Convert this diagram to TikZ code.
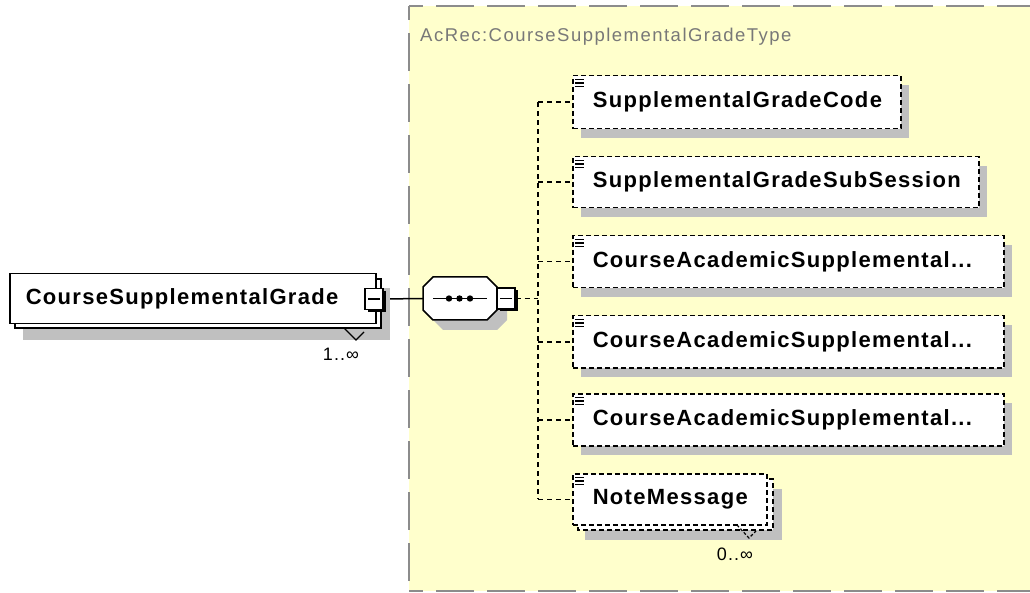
\documentclass[tikz,border=0pt]{standalone}
\usepackage{fontspec}
\setmainfont{Liberation Sans}
\newfontfamily\xsfont[LetterSpace=6]{Liberation Sans}
\newfontfamily\ttlfont[LetterSpace=8]{Liberation Sans}
\usetikzlibrary{shadows}
\definecolor{ybg}{RGB}{255,255,204}
\definecolor{bordergray}{RGB}{140,140,140}
\definecolor{shadowgray}{RGB}{192,192,192}
\definecolor{titlegray}{RGB}{120,120,120}
\newcommand\eltxt[3]{\makebox[#1][l]{\hspace{#2}#3}}
\pgfdeclarelayer{bg}
\pgfsetlayers{bg,main}
\begin{document}
\begin{tikzpicture}[x=1pt,y=-1pt,
  elt/.style={draw, line width=1.5pt, fill=white, inner xsep=0pt, inner ysep=0pt,
    anchor=north west, font=\xsfont\bfseries\fontsize{22}{26}\selectfont,
    text height=15pt, text depth=4pt},
  optnos/.style={elt, dash pattern=on 5pt off 3pt},
  opt/.style={optnos, drop shadow={shadow xshift=8pt, shadow yshift=-9pt, fill=shadowgray, opacity=1}},
  minus/.style={draw, fill=white, line width=1.3pt, minimum width=18pt, minimum height=21pt, inner sep=0pt,
    drop shadow={shadow xshift=2.5pt, shadow yshift=-2.5pt, fill=black, opacity=1},
    path picture={\draw[line width=1.3pt] ([xshift=3pt]path picture bounding box.west) -- ([xshift=-3pt]path picture bounding box.east);}},
  con/.style={line width=1.5pt},
  dcon/.style={line width=1.5pt, dash pattern=on 5pt off 4pt},
  mult/.style={font=\xsfont\fontsize{18}{21}\selectfont, inner sep=0pt},
  frame/.style={draw=bordergray, line width=2pt, dash pattern=on 38pt off 13pt},
  icon/.style={line width=1.3pt}
]
\useasboundingbox (0,0) rectangle (1030,593);

% type region
\begin{pgfonlayer}{bg}
\fill[ybg] (409,6) rectangle (1030,591);
\draw[frame, dash phase=24pt] (409,6) -- (1030,6);
\draw[frame, dash phase=24pt] (409,6) -- (409,591);
\draw[frame, dash phase=24pt] (409,591) -- (1030,591);
\end{pgfonlayer}
\node[anchor=base west, text=titlegray, font=\ttlfont\fontsize{18.5}{22}\selectfont, inner sep=0pt] (title) at (420,42) {AcRec:CourseSupplementalGradeType};

% main element (multiple)
\fill[shadowgray] (23,288) rectangle (390,340);
\draw[line width=1.5pt, fill=white] (15,279) rectangle (381,328);
\node[elt, minimum width=366pt, minimum height=50pt] (main) at (9,273) {\eltxt{366pt}{16pt}{CourseSupplementalGrade}};
\draw[line width=1.2pt] (344,328) -- (356,340) -- (364,332);
\node[minus] (mm) at (374,299) {};
\node[mult] (m1) at (341,354) {1..∞};

% sequence compositor
\node[minimum width=74pt, minimum height=43pt, inner sep=0pt] (seq) at (460,298.5) {};
\fill[shadowgray, shift={(10,10)}] (433,277) -- (487,277) -- (497,287) -- (497,310) -- (487,320) -- (433,320) -- (423,310) -- (423,287) -- cycle;
\draw[line width=1.5pt, fill=white] (433,277) -- (487,277) -- (497,287) -- (497,310) -- (487,320) -- (433,320) -- (423,310) -- (423,287) -- cycle;
\draw[line width=1.5pt] (433,298.5) -- (487,298.5);
\foreach \dx in {449,459.5,470} \fill (\dx,298.5) circle (3.2pt);
\node[minus] (sm) at (506,298.5) {};

% children
\node[opt, minimum width=328pt, minimum height=53pt] (c1) at (572,75) {\eltxt{328pt}{20pt}{SupplementalGradeCode}};
\node[opt, minimum width=406pt, minimum height=51pt] (c2) at (572,156) {\eltxt{406pt}{20pt}{SupplementalGradeSubSession}};
\node[opt, minimum width=431pt, minimum height=52pt] (c3) at (572,235) {\eltxt{431pt}{20pt}{CourseAcademicSupplemental...}};
\node[opt, minimum width=431pt, minimum height=52pt] (c4) at (572,315) {\eltxt{431pt}{20pt}{CourseAcademicSupplemental...}};
\node[opt, minimum width=431pt, minimum height=52pt] (c5) at (572,393) {\eltxt{431pt}{20pt}{CourseAcademicSupplemental...}};
\fill[shadowgray] (585,489) rectangle (782,540);
\draw[line width=1.5pt, dash pattern=on 5pt off 3pt, fill=white] (578,479) rectangle (773,530);
\node[optnos, minimum width=194pt, minimum height=51pt] (c6) at (572,473) {\eltxt{194pt}{20pt}{NoteMessage}};
\draw[line width=1.2pt, dash pattern=on 3pt off 2pt] (737,525) -- (749,538) -- (756,531);
\node[mult] (m2) at (735,554) {0..∞};

\foreach \c in {c1,c2,c3,c4,c5,c6} {
  \draw[icon] ([shift={(3,4.5)}]\c.north west) -- ++(9,0);
  \draw[icon] ([shift={(3,8)}]\c.north west) -- ++(9,0);
  \draw[icon] ([shift={(3,11.5)}]\c.north west) -- ++(9,0);
}

% connectors
\coordinate (sp) at (538,298.5);
\begin{pgfonlayer}{bg}
\draw[con] (mm.east) -- (seq.west);
\draw[dcon] (sm.east) -- (sp);
\draw[dcon] (sp |- c1.west) -- (sp |- c6.west);
\foreach \c in {c1,c2,c3,c4,c5,c6} \draw[dcon] (sp |- \c.west) -- (\c.west);
\end{pgfonlayer}
\end{tikzpicture}
\end{document}
